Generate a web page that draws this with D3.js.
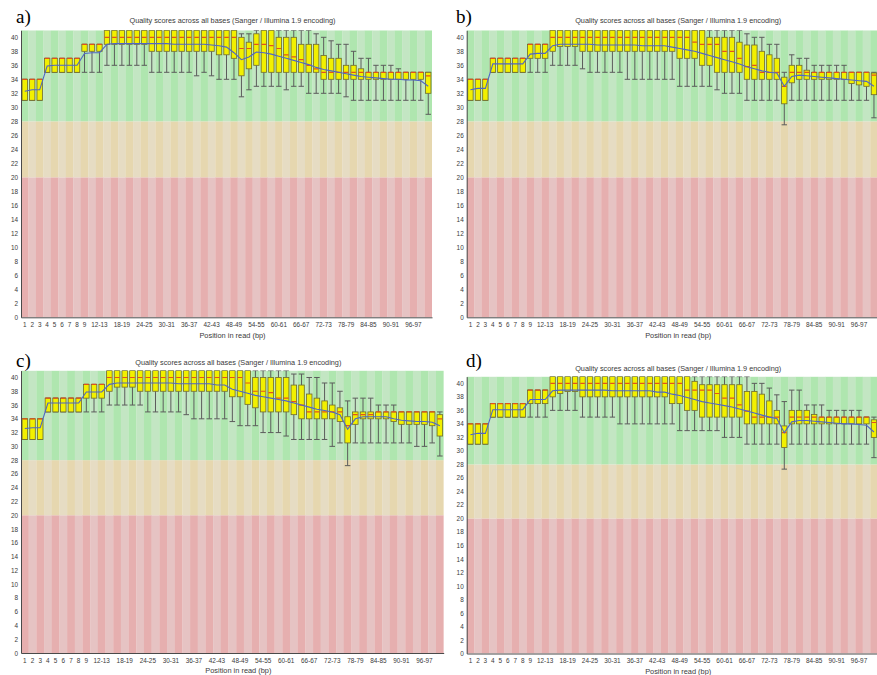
<!DOCTYPE html>
<html>
<head>
<meta charset="utf-8">
<script src="https://cdn.jsdelivr.net/npm/d3@7"></script>
<style>
  html, body { margin: 0; padding: 0; background: #ffffff; }
  svg { display: block; }
</style>
</head>
<body>
<svg id="chart" width="877" height="675"></svg>
<script>
// Base positions (FastQC grouping of a 101 bp read)
const positions = ["1","2","3","4","5","6","7","8","9","10-11","12-13","14-15","16-17","18-19","20-21","22-23","24-25","26-27","28-29","30-31","32-33","34-35","36-37","38-39","40-41","42-43","44-45","46-47","48-49","50-51","52-53","54-55","56-57","58-59","60-61","62-63","64-65","66-67","68-69","70-71","72-73","74-75","76-77","78-79","80-81","82-83","84-85","86-87","88-89","90-91","92-93","94-95","96-97","98-99","100-101"];
const xTickLabels = ["1","2","3","4","5","6","7","8","9","12-13","18-19","24-25","30-31","36-37","42-43","48-49","54-55","60-61","66-67","72-73","78-79","84-85","90-91","96-97"];
const yTickValues = [0,2,4,6,8,10,12,14,16,18,20,22,24,26,28,30,32,34,36,38,40];
const qualityZones = [{name:"bad", from:0, to:20}, {name:"ugly", from:20, to:28}, {name:"good", from:28, to:41}];
const chartTitle = "Quality scores across all bases (Sanger / Illumina 1.9 encoding)";
const xAxisTitle = "Position in read (bp)";

// Sample a
const aLow  = [31,31,31,35,35,35,35,35,35,35,35,36,36,36,36,36,36,35,35,35,35,35,35,34.5,35,34.5,34,34,34,31.5,32.5,33,33,33,33,32.5,33,33,32,32,32,32,32,31.5,31,31,31,31,31,31,31,31,31,31,29];
const aQ1   = [31,31,31,35,35,35,35,35,38,38,38,39,39,39,39,39,39,38,38,38,38,38,38,38,38,38,37.5,37.5,37,34.5,35.5,36,35,35,35,35,35,35,35,35,34,34,34,34,34,34,34,34,34,34,34,34,34,34,32];
const aMed  = [34,34,34,37,37,37,37,37,39,39,39,40,40,40,40,40,40,40,40,40,40,40,40,40,40,40,40,40,40,38.4,38.4,39,39,38.8,38.4,37.5,37.2,36.8,36,35.5,35,35,35,35,35,35,35,35,35,35,35,35,35,35,34.5];
const aQ3   = [34,34,34,37,37,37,37,37,39,39,39,41,41,41,41,41,41,41,41,41,41,41,41,41,41,41,41,41,41,40,39.3,40.5,41,41,40,40,40,39,39,39,37.4,37,37,36,36,35.5,35,35,35,35,35,35,35,35,35];
const aHigh = [34,34,34,37,37,37,37,37,39,39,39,41,41,41,41,41,41,41,41,41,41,41,41,41,41,41,41,41,41,40.5,40.5,41,41,41,41,41,41,41,41,40.5,40,39.5,39,39,38,37,37,36,36,36,35.5,35,35,35,35];
const aMean = [32.3,32.5,32.5,35.9,36,36,36,36,37.7,37.8,37.8,39,39.1,39.1,39.1,39.1,39.1,39.1,39.1,39.1,39,39,39,39,39,38.9,38.8,38.6,37.8,36.8,37.2,37.9,37.8,37.6,37.3,37,36.7,36.4,36.1,35.7,35.4,35.2,35,34.8,34.6,34.4,34.3,34.2,34.1,34,34,33.9,33.9,33.8,33];

// Sample b
const bLow  = [31,31,31,35,35,35,35,35,35,35,35,36,36,36,36,35.5,35,35,35,35,35,34,34,34,34,34,34,34,33,33,33,33,33,32.5,32,32,32,31,31,31,31,31,27.5,31,31,31,31,31,31,31,31,31,31,31,28.5];
const bQ1   = [31,31,31,35,35,35,35,35,37,37,37,38,38.7,38.7,38.7,38,38,38,38,38,38,38,38,38,38,38,38,38,37,37,37,36,36,35,35,35,35,34,34,34,34,34,30.5,33.5,34,34,34,34,34,34,34,33.4,33.2,33,31.8];
const bMed  = [34,34,34,37,37,37,37,37,39,39,39,40,40,40,40,40,40,40,40,40,40,40,40,40,40,40,40,40,40,40,39.3,39,39,39,38,38,37,35.8,36,35,35,35,33,35,35,35,35,35,35,35,35,35,35,35,34.6];
const bQ3   = [34,34,34,37,37,37,37,37,39,39,39,41,41,41,41,41,41,41,41,41,41,41,41,41,41,41,41,41,41,41,41,41,40,40,40,40,39.3,38.9,38.9,38,37.5,37,34.3,36,36,35.3,35,35,35,35,35,35,35,35,34.9];
const bHigh = [34,34,34,37,37,37,37,37,39,39,39,41,41,41,41,41,41,41,41,41,41,41,41,41,41,41,41,41,41,41,41,41,41,41,41,41,41,40.5,40,40,39,39,35,37.5,37,37,36,36,36,36,36,35,35,35,35];
const bMean = [32.5,32.7,32.7,36.2,36.2,36.2,36.2,36.2,37.6,37.7,37.7,38.8,39,39,39,39,39,38.9,38.9,38.9,38.9,38.9,38.9,38.8,38.8,38.8,38.8,38.6,38.4,38.2,38,37.7,37.4,37.1,36.8,36.5,36.2,35.8,35.5,35.2,35,34.9,33,34.4,34.6,34.5,34.4,34.3,34.2,34.1,34,33.9,33.8,33.7,33];

// Sample c
const cLow  = [31,31,31,35,35,35,35,35,35,35,35,36,36,36,36,36,35,35,35,35,35,34.6,34,34,34,34,34,33.6,33,33,33,32,32,32,31.5,31,31,31,31,31,30,30.5,27.2,30.5,30.5,30.5,30.5,30.5,30.5,30.5,30.5,30,30,30.5,28.6];
const cQ1   = [31,31,31,35,35,35,35,35,37,37,37,38,38.6,38.6,38.6,38,38,38,38,38,38,38,38,38,38,38,38,37.2,37.2,36.1,35.6,35,35,35,35,34.6,34,34,34,34,34,33.6,30.5,33.2,34,34,34,34,33.6,33.2,33.2,33.2,33.2,33,31.5];
const cMed  = [34,34,34,37,37,37,37,37,39,39,39,40,40,40,40,40,40,40,40,40,40,40,40,40,40,40,40,40,40,39.2,38,38,37.8,37,37,36.5,36,35,35,35,35,35,33,34.6,34.6,34.6,35,35,35,35,35,35,35,35,34];
const cQ3   = [34,34,34,37,37,37,37,37,39,39,39,41,41,41,41,41,41,41,41,41,41,41,41,41,41,41,41,41,41,41,40,40,40,40,40,38.9,38.9,37.6,37,36.6,36,35.6,34.3,35,35,35,35,35,35,35,35,35,35,35,34.6];
const cHigh = [34,34,34,37,37,37,37,37,39,39,39,41,41,41,41,41,41,41,41,41,41,41,41,41,41,41,41,41,41,41,41,41,41,41,41,40.5,40.5,40,40,39.2,39.2,38,36.6,37,37,37,36,36,36,35,35,35,35,35,35];
const cMean = [32.6,32.7,32.7,36.3,36.3,36.3,36.3,36.3,37.9,37.9,37.9,39,39.2,39.2,39.2,39.2,39.2,39.2,39.2,39.2,39.1,39.1,39.1,39.1,39.1,38.9,38.9,38.3,38,37.7,37.4,37.2,37,36.8,36.6,36.3,36,35.7,35.4,35.2,35,34.6,32.5,34,34.3,34.3,34.3,34.3,34,33.8,33.7,33.6,33.6,33.5,33];

// Sample d
const dLow  = [31,31,31,35,35,35,35,35,35,35,35,36,36,36,36,35,35,35,35,35,34,34,34,34,34,34,34,34,33,33,33,33,33,33,32,32,32,31,31,31,31,31,27.3,31,31,31,31,31,31,31,31,31,31,31,29];
const dQ1   = [31,31,31,35,35,35,35,35,37,37,37,38,38.5,38.8,38.8,38,38,38,38,38,38,38,38,38,38,38,38,37,37,36,36,35,35,35,35,35,35,34,34,34,34,34,30.5,34,34,34,34,34,34,34,34,34,34,34,32];
const dMed  = [34,34,34,37,37,37,37,37,39,39,39,40,40,40,40,40,40,40,40,40,40,40,40,40,40,40,40,40,40,39,39,39,39,38.5,37.8,37.8,36.8,35.9,35,35,35,35,32.7,35,35,35,35,35,35,35,35,35,35,35,34.2];
const dQ3   = [34,34,34,37,37,37,37,37,39,39,39,41,41,41,41,41,41,41,41,41,41,41,41,41,41,41,41,41,41,41,40.3,39.8,39.8,39.8,39.8,39.8,39.8,38.8,38.8,38.4,37.4,36,33.7,36,36,36,35.4,35,35,35,35,35,35,35,34.6];
const dHigh = [34,34,34,37,37,37,37,37,39,39,39,41,41,41,41,41,41,41,41,41,41,41,41,41,41,41,41,41,41,41,41,41,41,41,41,41,41,41,40,40,39.3,38.3,37.3,39,39,36.8,36.8,36.8,36,36,36,36,36,35,35];
const dMean = [32.4,32.6,32.6,36.1,36.1,36.1,36.1,36.1,37.6,37.6,37.6,38.9,39,39,39,39,39,39,39,38.9,38.9,38.9,38.9,38.9,38.9,38.7,38.7,38.4,38.2,37.9,37.6,37.3,37.1,36.9,36.7,36.5,36.2,35.9,35.6,35.3,35,34.8,32.7,34.3,34.5,34.5,34.4,34.3,34.2,34.1,34,34,33.9,33.8,32.8];

// Where each of the four plots sits on the page
const panels = [
  { letter: "a)", low: aLow, q1: aQ1, med: aMed, q3: aQ3, high: aHigh, mean: aMean,
    frame: { left: 21, right: 432, top: 30.3, bottom: 317.3 },
    letterPos: [16, 23], titleY: 22.5, tickY: 327.5, axisTitleY: 337.5 },
  { letter: "b)", low: bLow, q1: bQ1, med: bMed, q3: bQ3, high: bHigh, mean: bMean,
    frame: { left: 466.7, right: 877.7, top: 30.3, bottom: 317.3 },
    letterPos: [456, 23], titleY: 22.5, tickY: 327.5, axisTitleY: 337.5 },
  { letter: "c)", low: cLow, q1: cQ1, med: cMed, q3: cQ3, high: cHigh, mean: cMean,
    frame: { left: 21, right: 443.7, top: 370.6, bottom: 653 },
    letterPos: [16, 367], titleY: 364.5, tickY: 662.5, axisTitleY: 673 },
  { letter: "d)", low: dLow, q1: dQ1, med: dMed, q3: dQ3, high: dHigh, mean: dMean,
    frame: { left: 466.7, right: 877.7, top: 376.6, bottom: 653.5 },
    letterPos: [466, 367], titleY: 371, tickY: 663, axisTitleY: 673.5 }
];

const zoneFill = {
  good: ["#afe6af", "#c3e6c3"],
  ugly: ["#e6d7af", "#e6dcc3"],
  bad:  ["#e6afaf", "#e6c3c3"]
};

const svg = d3.select("#chart");
const sansFont = "'Liberation Sans', Arial, sans-serif";

panels.forEach((p, pi) => {
  const f = p.frame;
  const x = d3.scaleBand().domain(positions).range([f.left, f.right]).padding(0);
  const y = d3.scaleLinear().domain([0, 41]).range([f.bottom, f.top]);
  const bw = x.bandwidth();
  const boxW = bw * 0.72;

  const g = svg.append("g").attr("class", "panel");

  const clipId = "clip" + pi;
  g.append("clipPath").attr("id", clipId)
    .append("rect").attr("x", f.left).attr("y", f.top)
    .attr("width", f.right - f.left).attr("height", f.bottom - f.top);

  const plot = g.append("g").attr("clip-path", `url(#${clipId})`);

  // Striped good / ugly / bad background, one stripe per base group
  positions.forEach((pos, i) => {
    qualityZones.forEach(z => {
      plot.append("rect")
        .attr("x", x(pos)).attr("width", bw + 0.2)
        .attr("y", y(z.to)).attr("height", y(z.from) - y(z.to))
        .attr("fill", zoneFill[z.name][i % 2]);
    });
  });

  const rows = positions.map((pos, i) => ({
    pos, low: p.low[i], q1: p.q1[i], med: p.med[i], q3: p.q3[i], high: p.high[i], mean: p.mean[i]
  }));
  const cx = d => x(d.pos) + bw / 2;

  // Whiskers (10th / 90th percentile) with caps
  const wk = plot.append("g").attr("stroke", "#5c5c5c").attr("stroke-width", 1);
  wk.selectAll(".wl").data(rows).join("line")
    .attr("x1", cx).attr("x2", cx).attr("y1", d => y(d.q1)).attr("y2", d => y(d.low));
  wk.selectAll(".wh").data(rows).join("line")
    .attr("x1", cx).attr("x2", cx).attr("y1", d => y(d.q3)).attr("y2", d => y(d.high));
  wk.selectAll(".cl").data(rows).join("line")
    .attr("x1", d => cx(d) - boxW / 2).attr("x2", d => cx(d) + boxW / 2)
    .attr("y1", d => y(d.low)).attr("y2", d => y(d.low));
  wk.selectAll(".ch").data(rows).join("line")
    .attr("x1", d => cx(d) - boxW / 2).attr("x2", d => cx(d) + boxW / 2)
    .attr("y1", d => y(d.high)).attr("y2", d => y(d.high));

  // Inter-quartile boxes
  plot.append("g").selectAll("rect").data(rows).join("rect")
    .attr("x", d => cx(d) - boxW / 2).attr("width", boxW)
    .attr("y", d => y(d.q3)).attr("height", d => Math.max(0.5, y(d.q1) - y(d.q3)))
    .attr("fill", "#f2f000").attr("stroke", "#6e6a2e").attr("stroke-width", 0.8);

  // Medians
  plot.append("g").selectAll("line").data(rows).join("line")
    .attr("x1", d => cx(d) - boxW / 2 + 0.4).attr("x2", d => cx(d) + boxW / 2 - 0.4)
    .attr("y1", d => y(d.med)).attr("y2", d => y(d.med))
    .attr("stroke", "#e2531c").attr("stroke-width", 1.2);

  // Mean quality line
  plot.append("path").datum(rows)
    .attr("fill", "none").attr("stroke", "#4f66c4").attr("stroke-width", 1.1)
    .attr("d", d3.line().x(cx).y(d => y(d.mean)));

  // Axes
  const yAxis = g.append("g").attr("transform", `translate(${f.left},0)`)
    .call(d3.axisLeft(y).tickValues(yTickValues).tickSize(0).tickPadding(3).tickSizeOuter(0));
  const xAxis = g.append("g").attr("transform", `translate(0,${f.bottom})`)
    .call(d3.axisBottom(x).tickValues(xTickLabels).tickSize(0).tickPadding(5).tickSizeOuter(0));
  [yAxis, xAxis].forEach(ax => {
    ax.select(".domain").attr("stroke", "#4a4a4a").attr("stroke-width", 1);
    ax.selectAll("text").attr("font-family", sansFont).attr("font-size", 6.4).attr("fill", "#3a3a3a");
  });
  xAxis.selectAll(".tick text").attr("dy", null).attr("y", p.tickY - f.bottom);

  // Titles
  const midX = (f.left + f.right) / 2 + 6;
  g.append("text").attr("x", midX).attr("y", p.titleY)
    .attr("text-anchor", "middle").attr("font-family", sansFont).attr("font-size", 7.3)
    .attr("fill", "#3a3a3a").text(chartTitle);
  g.append("text").attr("x", midX).attr("y", p.axisTitleY)
    .attr("text-anchor", "middle").attr("font-family", sansFont).attr("font-size", 7.4)
    .attr("fill", "#3a3a3a").text(xAxisTitle);

  // Panel letter
  g.append("text").attr("x", p.letterPos[0]).attr("y", p.letterPos[1])
    .attr("font-family", "'Liberation Serif', 'Times New Roman', serif").attr("font-size", 19)
    .attr("fill", "#000").text(p.letter);
});
</script>
</body>
</html>
